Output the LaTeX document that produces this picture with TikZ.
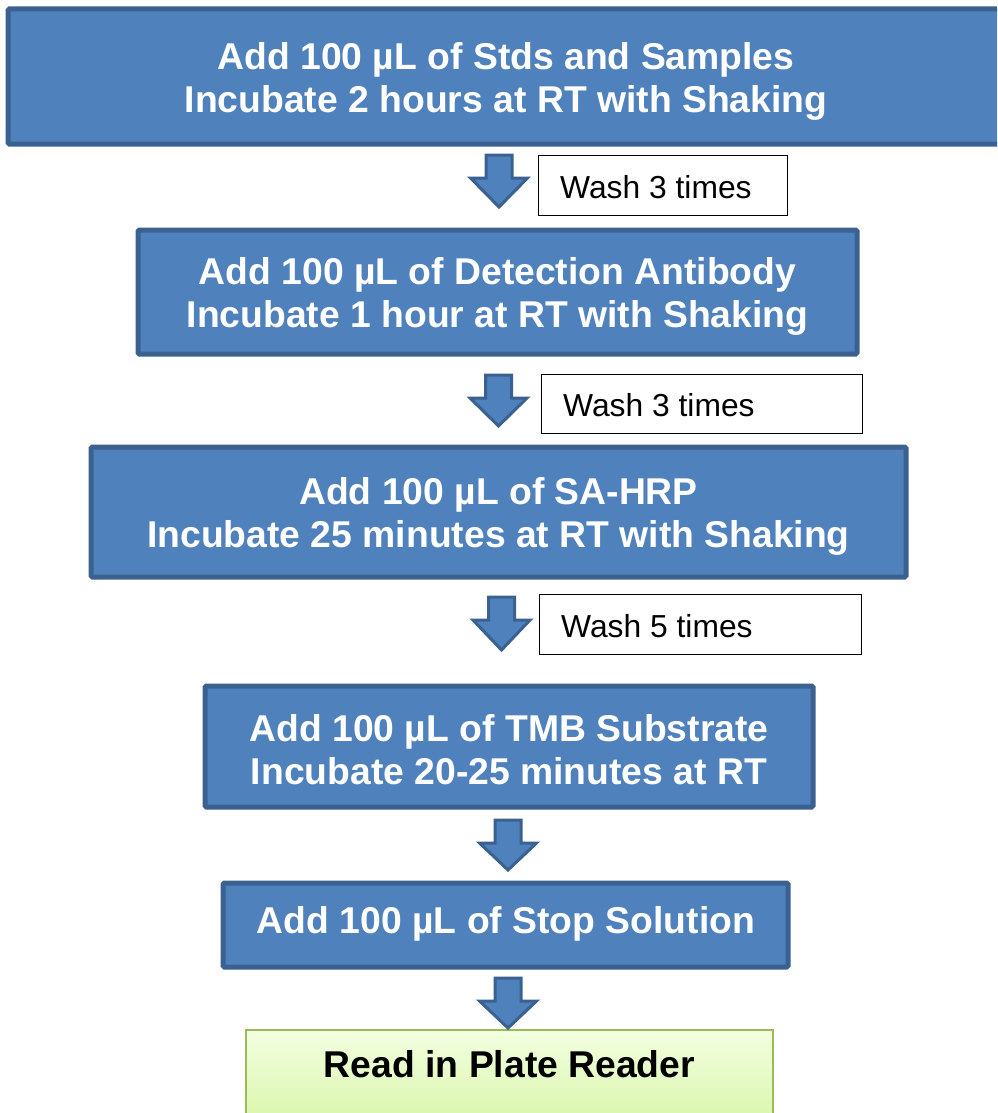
\documentclass[tikz,border=0pt]{standalone}
\usepackage{fontspec}
\setmainfont{Liberation Sans}
\definecolor{stepfill}{HTML}{4F81BD}
\definecolor{stepline}{HTML}{3A6190}
\definecolor{readtop}{HTML}{F2FFE0}
\definecolor{readbot}{HTML}{D7F5A6}
\definecolor{readline}{HTML}{9BBB59}
\tikzset{
  stepbox/.style={draw=stepline, line width=5pt, fill=stepfill, rounded corners=1.5pt,
    text=white, font=\fontsize{37.3}{43}\selectfont\bfseries, align=center, inner sep=0pt},
  washbox/.style={draw=black, line width=1.3pt, fill=white, inner sep=0pt},
  washtext/.style={inner sep=0pt, font=\fontsize{31.8}{36}\selectfont},
  readbox/.style={draw=readline, line width=1.5pt, top color=readtop, bottom color=readbot, inner sep=0pt},
  blockarrow/.style={draw=stepline, line width=3pt, fill=stepfill, line join=miter}
}
\newcommand\downblock[3]{%
  \draw[blockarrow] (#1-13,#2) -- (#1+13,#2) -- (#1+13,#2+23) -- (#1+28.5,#2+23)
    -- (#1,#3) -- (#1-28.5,#2+23) -- (#1-13,#2+23) -- cycle;}
\begin{document}
\begin{tikzpicture}[x=1pt,y=-1pt]
\useasboundingbox (0,0) rectangle (997,1113);
\clip (0,0) rectangle (997,1113);
% step boxes
\node[stepbox, minimum width=992, minimum height=135] (s1) at (504,76.5) {};
\node[stepbox, draw=none, fill=none] (s1t) at (506,81)
  {Add 100 µL of Stds and Samples\\Incubate 2 hours at RT with Shaking};
\node[stepbox, minimum width=719, minimum height=124] (s2) at (497.5,292) {};
\node[stepbox, draw=none, fill=none] (s2t) at (497.5,296)
  {Add 100 µL of Detection Antibody\\Incubate 1 hour at RT with Shaking};
\node[stepbox, minimum width=815, minimum height=130] (s3) at (498.5,512) {};
\node[stepbox, draw=none, fill=none] (s3t) at (498.5,516)
  {Add 100 µL of SA-HRP\\Incubate 25 minutes at RT with Shaking};
\node[stepbox, minimum width=608, minimum height=121] (s4) at (509,746.5) {};
\node[stepbox, draw=none, fill=none] (s4t) at (509,750)
  {Add 100 µL of TMB Substrate\\Incubate 20-25 minutes at RT};
\node[stepbox, minimum width=565, minimum height=84] (s5) at (505.5,925) {};
\node[stepbox, draw=none, fill=none] (s5t) at (506,924) {Add 100 µL of Stop Solution};
\node[readbox, minimum width=527, minimum height=100] (rd) at (509.5,1080) {};
\node[font=\fontsize{37.3}{43}\selectfont\bfseries, text=black, inner sep=0pt] (rdt) at (509.5,1064) {Read in Plate Reader};
% wash boxes
\node[washbox, minimum width=249, minimum height=60, anchor=north west] (w1) at (538,155) {};
\node[washtext, anchor=west] (w1t) at ([xshift=22pt,yshift=-1pt]w1.west) {Wash 3 times};
\node[washbox, minimum width=321, minimum height=59, anchor=north west] (w2) at (541,374) {};
\node[washtext, anchor=west] (w2t) at ([xshift=22pt,yshift=-1pt]w2.west) {Wash 3 times};
\node[washbox, minimum width=322, minimum height=60, anchor=north west] (w3) at (539,594) {};
\node[washtext, anchor=west] (w3t) at ([xshift=22pt,yshift=-1pt]w3.west) {Wash 5 times};
% block arrows between steps
\downblock{499}{155}{207}
\downblock{498.5}{375}{426}
\downblock{501.5}{597}{650}
\downblock{508}{820}{870}
\downblock{508}{978}{1028}
\end{tikzpicture}
\end{document}
